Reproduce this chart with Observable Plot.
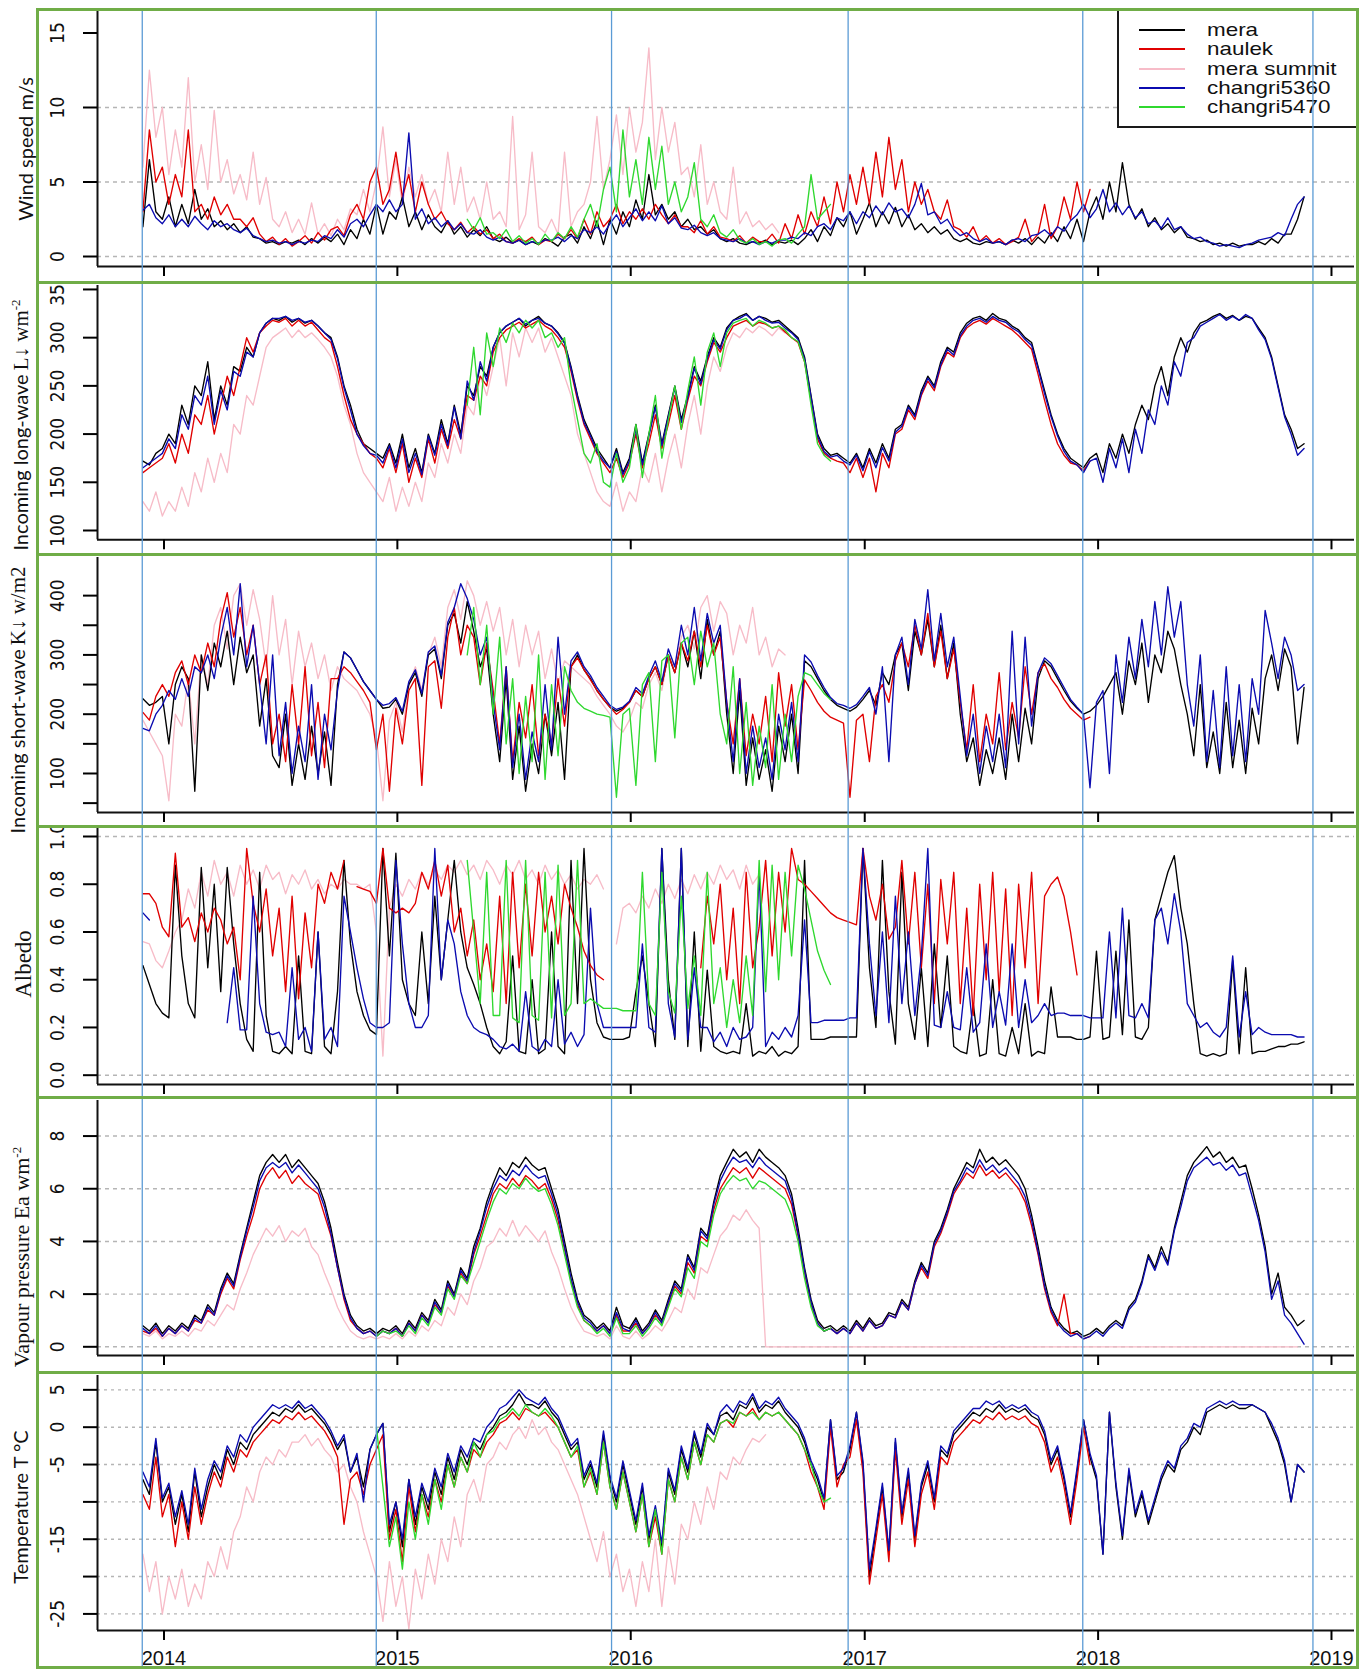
<!DOCTYPE html>
<html><head><meta charset="utf-8">
<script src="https://cdn.jsdelivr.net/npm/d3@7"></script>
<script src="https://cdn.jsdelivr.net/npm/@observablehq/plot@0.6"></script>
<style>
body{margin:0;background:#fff}
#fig{position:relative;width:1372px;height:1670px;background:#fff;overflow:hidden}
.box{position:absolute;border:3px solid #70ad47;box-sizing:border-box;z-index:4;pointer-events:none}
.ytitle{position:absolute;transform:translate(-50%,-50%) rotate(-90deg);white-space:nowrap;z-index:5;color:#111;line-height:1}
.sans{font-family:Lato,"Open Sans",sans-serif;font-size:20px}
.serif{font-family:"Liberation Serif","DejaVu Serif",serif;font-size:21px}
.serif sup{font-size:13px;vertical-align:8px}
.leg{position:absolute;z-index:2;background:#fff;border-left:2px solid #1a1a1a;border-bottom:2px solid #1a1a1a;box-sizing:border-box}
.legtxt{position:absolute;font-family:"Liberation Sans",Arial,sans-serif;font-size:19px;line-height:18px;height:18px;color:#111;white-space:nowrap;transform:scaleX(1.18);transform-origin:0 50%}
.plotwrap{position:absolute;left:0;z-index:1}
</style></head>
<body><div id="fig"></div>
<script>
// ---------------- data ----------------
const stations = ["mera", "naulek", "mera summit", "changri5360", "changri5470"];
const colors = ["#000000", "#e00000", "#f7bcc8", "#0b0bb0", "#2fd82f"];
// sampling grid: 36 samples per year starting 29 Nov 2013
const gridStart = Date.UTC(2013, 10, 29);
const gridStepDays = 365.25 / 36;
const yearTicks = [2014, 2015, 2016, 2017, 2018, 2019];
const hydroYearStarts = ["2013-11-28", "2014-11-29", "2015-12-02", "2016-12-06", "2017-12-08", "2018-12-03"];
const greenStartRad = 50, greenStartMet = 36;

// Wind speed m/s
const windMera = [2.0,6.5,3.0,2.5,4.0,2.0,3.5,2.2,4.5,2.5,3.2,2.0,2.4,1.8,2.2,1.6,2.0,1.3,1.2,0.9,1.0,0.8,1.0,0.9,1.1,0.8,1.2,0.9,1.3,1.0,1.5,0.8,1.8,1.2,2.5,1.5,
 3.5,1.5,3.0,2.5,4.0,2.0,3.0,1.8,2.8,2.0,1.6,2.4,1.5,2.0,1.3,1.8,1.4,2.0,1.2,1.0,1.3,0.9,1.1,0.8,1.0,0.8,1.2,1.0,0.7,1.3,1.5,0.9,2.0,1.2,2.4,0.8,
 2.5,1.5,3.0,2.0,3.8,2.5,5.5,2.8,3.5,2.5,3.0,2.0,2.5,1.8,2.0,1.5,1.8,1.2,1.0,1.2,0.9,0.8,1.0,0.9,1.1,0.8,1.0,0.9,1.1,0.8,1.2,1.8,1.0,2.0,1.4,2.6,
 2.0,3.0,1.5,2.5,3.6,2.0,3.0,2.2,3.3,2.0,2.8,1.8,2.2,1.6,2.0,1.5,1.8,1.2,1.0,1.2,0.9,0.8,1.0,0.9,1.0,0.8,1.1,0.9,1.2,0.8,1.3,0.9,1.6,1.0,2.0,1.2,
 2.5,1.0,3.0,4.0,2.5,5.0,3.0,6.3,3.5,2.5,3.2,2.0,2.6,1.8,2.2,1.6,2.0,1.3,1.2,1.0,1.1,0.8,0.9,0.7,0.9,0.7,0.8,0.8,1.0,0.8,1.2,0.9,1.5,1.5,2.5,4.0];
const windNaulek = [3.0,8.5,5.0,6.0,3.5,5.5,4.0,8.5,3.0,3.5,2.5,4.0,2.8,3.5,2.5,2.5,2.0,2.6,1.5,1.0,1.3,0.8,1.2,0.7,1.0,1.4,0.9,1.6,1.1,1.8,2.0,1.4,2.8,3.5,2.5,5.0,
 6.0,3.5,4.5,7.0,4.0,5.5,3.0,5.0,3.5,2.5,3.0,2.2,1.8,2.3,1.6,2.0,1.5,1.8,1.2,1.5,1.0,0.9,1.2,1.0,1.3,0.8,1.1,1.0,1.5,1.2,1.8,1.2,2.5,1.5,3.0,2.0,
 2.5,3.5,2.2,3.0,2.5,3.2,2.5,3.5,2.8,2.2,2.8,2.0,2.0,1.6,2.4,1.5,2.0,1.3,1.2,1.0,1.4,0.9,1.3,1.0,1.0,1.5,0.9,2.2,1.2,2.8,1.5,3.0,2.0,4.0,2.2,5.0,
 3.0,5.5,3.5,6.0,3.5,7.0,4.0,8.0,4.5,6.5,3.0,5.0,3.5,4.5,3.0,2.5,3.8,2.0,1.8,1.3,2.0,1.0,1.4,0.9,1.2,0.8,1.0,1.3,2.5,1.0,1.5,3.5,1.2,2.0,4.0,2.5,
 5.0,3.0,4.5];
const windSummit = [6.0,12.5,8.0,10.0,5.5,8.5,6.0,12.0,5.0,7.5,4.5,9.8,5.0,6.5,4.2,5.5,3.8,7.0,3.5,5.3,2.5,2.0,3.0,1.6,2.5,1.5,3.6,1.5,2.2,1.4,2.5,1.8,3.2,2.8,4.5,3.0,
 5.0,8.7,4.0,6.5,3.5,6.0,4.0,5.5,3.5,4.5,3.0,7.0,3.5,6.0,3.0,4.0,2.5,5.0,2.5,3.0,2.0,9.4,1.8,2.8,7.0,2.0,1.6,2.5,1.5,7.0,2.0,3.0,3.5,5.0,9.4,4.5,
 6.5,9.5,5.5,10.0,7.0,9.0,14.0,6.5,10.0,7.0,9.0,5.5,6.0,4.0,7.5,3.5,5.0,3.0,2.5,6.0,2.2,3.0,2.0,2.4,1.8,2.2,1.6];
const windC5360 = [3.1,3.5,2.6,2.2,2.8,2.0,2.5,2.0,2.7,2.2,1.8,2.4,2.0,2.2,1.8,1.6,1.9,1.4,1.2,1.0,1.1,0.9,1.0,0.8,1.0,0.9,1.1,1.0,1.4,1.2,1.8,1.3,2.2,2.5,2.0,2.8,
 3.5,3.0,3.8,3.0,3.5,8.3,2.5,3.2,2.2,2.6,2.0,2.4,1.8,2.2,1.6,1.5,1.8,1.3,1.1,1.3,1.0,0.9,1.1,0.8,1.0,0.9,1.1,1.1,1.3,1.0,1.4,1.2,1.8,1.6,2.0,1.5,
 2.2,2.8,2.0,2.6,3.2,2.4,3.0,2.4,3.4,2.2,2.6,1.9,1.8,2.1,1.6,1.4,1.6,1.2,1.1,1.0,1.2,0.9,1.0,0.8,1.0,0.9,1.1,1.1,1.3,1.2,1.6,1.4,2.0,2.2,1.8,2.6,
 2.4,3.0,2.2,3.0,2.6,3.4,2.8,3.6,3.0,3.2,2.6,3.5,4.9,2.8,3.0,2.2,2.5,1.8,1.4,1.6,1.2,1.0,1.2,0.9,1.0,0.8,1.1,1.2,1.0,1.4,1.5,1.8,1.4,2.0,1.7,2.4,
 2.8,3.5,2.6,3.2,4.5,3.0,3.6,2.8,3.4,2.6,3.0,2.2,2.4,1.9,2.6,1.8,2.0,1.5,1.2,1.3,1.0,0.9,0.7,0.8,0.7,0.6,0.8,0.9,1.1,1.2,1.3,1.6,1.4,2.5,3.5,4.0];
const windC5470 = [2.5,1.8,2.6,1.5,1.6,1.2,1.8,1.0,1.4,0.9,1.2,0.8,1.5,1.0,1.6,1.2,2.0,1.3,2.5,3.5,2.0,4.5,
 6.0,3.0,8.5,4.0,6.5,3.5,8.0,4.5,7.4,3.5,5.0,3.0,4.0,6.3,2.5,2.0,2.8,1.6,1.3,1.8,1.1,0.9,1.2,0.8,1.0,0.7,1.1,1.2,0.9,1.5,2.0,5.5,2.5,3.0,3.5];

// Incoming long-wave W m-2
const lwMera = [172,168,180,185,200,190,230,210,250,240,275,215,250,230,270,265,290,280,305,315,320,318,322,316,320,315,318,312,305,300,280,250,230,205,190,185,
 180,175,190,170,200,165,185,160,200,180,215,190,230,200,250,240,270,260,290,305,312,316,320,312,318,322,315,312,305,295,270,240,215,200,185,175,
 165,185,160,175,210,170,200,230,190,220,250,215,240,270,255,280,300,290,310,318,322,325,318,322,320,316,318,312,306,300,280,240,200,185,178,180,
 175,170,180,165,185,170,190,175,205,210,230,220,245,260,250,275,290,285,305,315,320,322,318,325,320,318,312,308,300,295,270,245,220,200,185,175,
 170,165,175,180,160,190,175,200,180,210,230,215,250,270,240,280,300,285,305,315,318,322,325,320,323,318,322,320,310,300,280,250,220,205,185,190];
const lwNaulek = [160,165,170,175,190,170,200,180,220,210,240,200,230,260,240,270,300,285,305,312,318,316,320,312,318,312,316,308,300,295,270,240,215,200,190,180,
 175,165,185,160,190,150,175,155,195,170,205,185,215,195,240,235,260,250,285,300,308,312,316,310,314,318,312,308,300,290,265,235,210,195,180,170,
 160,175,155,170,200,165,190,220,185,210,240,205,235,260,250,275,295,285,300,312,315,318,312,316,314,310,312,306,300,295,275,235,195,180,175,172,
 170,160,175,155,175,140,180,165,200,205,225,215,240,255,245,270,285,280,300,310,315,318,314,320,316,312,308,302,295,288,262,235,210,190,178,170,
 168,162,172];
const lwSummit = [130,120,140,115,130,120,145,125,160,140,175,150,180,160,210,200,240,230,260,290,300,305,310,300,308,300,305,298,290,280,260,230,210,180,160,150,
 140,130,155,120,145,125,150,130,170,155,190,170,200,180,230,220,260,240,270,300,250,305,280,310,295,310,285,300,280,260,240,200,180,160,140,130,
 125,150,120,140,130,165,150,180,140,175,200,165,210,240,200,250,280,265,290,305,300,310,305,312,308,302,310,305];
const lwC5360 = [165,170,175,180,195,185,220,205,240,230,260,210,245,225,265,260,285,280,305,315,320,320,322,318,320,316,318,312,305,298,278,248,225,200,188,180,
 178,170,188,165,195,160,180,158,198,178,210,188,228,195,255,235,275,255,290,305,312,316,320,314,318,320,315,312,304,294,268,238,212,198,182,172,
 165,182,158,172,205,168,198,228,188,218,248,212,238,268,252,278,298,288,308,318,320,324,318,322,318,315,316,310,305,298,278,238,198,182,176,178,
 172,168,178,162,182,165,186,172,202,208,228,218,242,258,248,272,288,282,302,312,318,320,316,322,318,316,310,306,298,292,268,242,218,198,182,172,
 168,160,172,175,150,185,165,195,160,205,180,225,210,250,230,275,260,295,300,312,316,320,324,318,322,318,324,320,308,298,278,248,218,200,178,185];
const lwC5470 = [230,290,220,305,270,310,295,315,305,318,310,318,300,305,290,300,250,215,180,170,190,150,
 145,180,150,165,210,155,200,240,175,215,250,205,245,280,230,285,305,270,305,315,318,320,312,318,315,310,312,308,300,296,275,230,190,178,172];

// Incoming short-wave W m-2
const swMera = [226,215,220,230,150,250,280,260,70,300,240,320,280,340,250,330,270,300,180,260,130,110,200,80,150,90,180,100,170,80,250,305,295,275,255,240,
 225,210,212,225,200,250,270,230,300,310,260,350,370,320,390,340,280,310,200,120,260,90,180,70,150,100,200,130,220,90,280,300,275,260,240,225,
 212,205,210,220,240,230,260,280,250,300,270,320,280,340,260,360,300,340,200,100,240,80,160,90,140,70,180,120,200,100,290,280,260,240,225,215,
 210,205,212,225,240,215,270,250,300,320,240,340,300,360,280,350,260,320,200,120,160,80,140,100,160,90,200,120,210,150,260,290,280,260,240,222,
 210,200,205,215,230,250,270,200,290,250,320,220,300,270,340,310,250,200,130,250,110,170,100,220,110,190,100,210,150,260,300,240,310,280,150,245];
const swNaulek = [203,190,230,250,230,270,290,250,300,270,320,280,360,405,330,380,300,350,250,300,150,200,120,250,150,280,130,220,110,260,260,280,270,255,240,220,
 140,200,70,210,150,240,260,80,280,290,210,330,380,300,350,330,250,320,240,150,280,120,220,160,250,130,200,150,260,180,280,295,275,258,240,225,
 212,200,208,220,240,230,260,280,250,300,270,320,290,340,280,350,300,330,220,150,260,130,200,150,230,120,270,180,250,140,258,240,220,205,195,190,
 185,60,190,200,120,230,250,220,290,320,280,350,300,370,280,340,260,310,220,140,250,120,200,150,270,140,220,160,280,200,270,285,260,245,225,210,
 200,190,195];
const swSummit = [190,170,150,130,54,200,180,260,150,300,250,350,380,310,400,420,350,410,360,280,400,300,360,250,340,280,320,260,300,240,280,260,250,240,220,200,
 160,54,190,220,170,250,280,240,300,330,280,380,410,360,425,400,350,390,340,380,300,360,280,350,300,340,260,310,250,290,280,270,260,250,230,215,
 200,180,170,190,220,210,250,270,240,300,280,330,350,310,380,400,340,390,370,300,350,320,380,300,330,280,310,300];
const swC5360 = [176,172,200,215,240,225,260,230,280,270,300,260,330,380,300,420,280,350,250,150,300,130,220,100,180,120,250,90,200,140,240,305,295,275,255,240,
 225,215,218,228,205,255,275,235,305,315,265,355,380,420,395,360,300,330,220,140,280,110,200,90,170,120,250,140,330,200,290,305,280,265,245,230,
 215,208,212,222,245,235,265,290,255,310,280,350,300,380,290,370,320,350,220,120,260,100,180,110,160,90,200,140,220,120,300,288,265,245,228,218,
 215,210,216,230,245,200,280,120,300,330,250,360,310,410,290,370,280,330,230,130,200,100,180,120,200,110,340,150,330,180,270,295,285,265,245,225,
 212,200,76,220,240,100,300,220,330,260,360,280,390,300,415,330,390,250,180,300,120,240,110,280,130,250,120,260,200,375,320,260,330,300,240,250];
const swC5470 = [300,380,250,350,200,330,150,260,100,230,120,300,90,250,130,280,240,220,210,205,200,198,
 195,60,200,210,80,250,270,120,290,300,160,320,330,250,340,280,320,200,150,280,100,220,80,180,110,250,90,200,120,230,270,265,250,235,225];

// Albedo
const albMera = [0.46,0.38,0.30,0.26,0.24,0.88,0.50,0.30,0.24,0.87,0.45,0.80,0.35,0.87,0.55,0.30,0.15,0.10,0.85,0.25,0.10,0.09,0.12,0.09,0.50,0.10,0.09,0.60,0.12,0.09,0.35,0.90,0.55,0.35,0.25,0.19,
 0.17,0.95,0.50,0.93,0.40,0.30,0.25,0.60,0.30,0.75,0.40,0.65,0.90,0.60,0.45,0.38,0.30,0.20,0.12,0.09,0.14,0.50,0.10,0.09,0.40,0.09,0.11,0.60,0.12,0.09,0.90,0.30,0.95,0.40,0.22,0.16,
 0.15,0.15,0.15,0.16,0.35,0.50,0.30,0.12,0.95,0.40,0.15,0.95,0.12,0.60,0.10,0.44,0.12,0.10,0.09,0.10,0.09,0.30,0.08,0.10,0.09,0.12,0.08,0.10,0.09,0.12,0.90,0.15,0.15,0.15,0.16,0.16,
 0.16,0.16,0.16,0.95,0.45,0.20,0.90,0.35,0.13,0.85,0.30,0.15,0.45,0.12,0.55,0.20,0.50,0.12,0.10,0.09,0.30,0.08,0.09,0.40,0.09,0.08,0.20,0.09,0.30,0.08,0.10,0.09,0.37,0.16,0.16,0.16,
 0.15,0.15,0.16,0.52,0.15,0.16,0.52,0.17,0.65,0.16,0.15,0.20,0.65,0.75,0.85,0.92,0.70,0.55,0.30,0.09,0.08,0.09,0.08,0.09,0.48,0.09,0.45,0.09,0.10,0.10,0.11,0.12,0.12,0.13,0.13,0.14];
const albNaulek = [0.76,0.76,0.72,0.62,0.58,0.93,0.62,0.66,0.56,0.68,0.60,0.70,0.65,0.55,0.62,0.40,0.95,0.72,0.60,0.78,0.50,0.70,0.35,0.75,0.32,0.68,0.45,0.80,0.72,0.85,0.78,0.90,null,0.79,0.78,0.77,
 0.72,0.95,0.70,0.68,0.70,0.68,0.72,0.85,0.78,0.90,0.75,0.88,0.60,0.70,0.50,0.65,0.40,0.55,0.35,0.75,0.30,0.85,0.45,0.80,0.50,0.85,0.60,0.75,0.55,0.80,0.70,0.62,0.52,0.46,0.42,0.40,
 null,null,null,null,null,null,null,null,null,null,null,null,null,null,0.45,0.75,0.55,0.80,0.40,0.70,0.30,0.85,0.45,0.62,0.90,0.50,0.85,0.60,0.95,0.82,0.80,0.77,0.74,0.71,0.68,0.66,
 0.65,0.64,0.63,0.95,0.75,0.65,0.80,0.57,0.62,0.90,0.55,0.85,0.45,0.80,0.30,0.82,0.55,0.85,0.30,0.70,0.25,0.80,0.40,0.85,0.35,0.78,0.25,0.80,0.45,0.85,0.30,0.75,0.80,0.83,0.75,0.60,
 0.42];
const albSummit = [0.56,0.55,0.48,0.45,0.52,0.60,0.65,0.78,0.70,0.85,0.75,0.90,0.80,0.85,0.75,0.88,0.80,0.86,0.78,0.88,0.82,0.85,0.76,0.84,0.80,0.86,0.78,0.82,0.76,0.80,0.78,0.82,0.80,0.80,0.78,0.80,
 0.60,0.08,0.70,0.80,0.75,0.82,0.78,0.85,0.80,0.86,0.82,0.88,0.85,0.90,0.84,0.88,0.82,0.90,0.86,0.80,0.88,0.84,0.90,0.82,0.86,0.80,0.88,0.82,0.86,0.80,0.84,0.78,0.82,0.80,0.84,0.78,
 null,0.55,0.70,0.72,0.68,0.75,0.70,0.78,0.72,0.80,0.74,0.82,0.76,0.84,0.78,0.85,0.80,0.88,0.82,0.86,0.78,0.88,0.80,0.84];
const albC5360 = [0.68,0.65,null,null,null,null,null,null,null,null,null,null,null,0.22,0.45,0.19,0.19,0.75,0.30,0.18,0.17,0.18,0.12,0.45,0.15,0.20,0.10,0.60,0.15,0.20,0.12,0.75,0.60,0.45,0.32,0.22,
 0.20,0.20,0.22,0.90,0.55,0.30,0.20,0.20,0.25,0.95,0.40,0.65,0.55,0.35,0.25,0.20,0.18,0.17,0.15,0.12,0.11,0.13,0.10,0.35,0.12,0.10,0.15,0.12,0.40,0.13,0.18,0.12,0.17,0.70,0.30,0.20,
 0.20,0.20,0.20,0.20,0.20,0.55,0.20,0.18,0.95,0.30,0.16,0.95,0.15,0.45,0.20,0.20,0.14,0.18,0.12,0.20,0.15,0.16,0.20,0.85,0.12,0.18,0.15,0.20,0.16,0.25,0.65,0.22,0.22,0.23,0.23,0.23,
 0.23,0.24,0.24,0.95,0.55,0.25,0.60,0.22,0.75,0.30,0.60,0.25,0.50,0.95,0.21,0.20,0.35,0.20,0.19,0.45,0.18,0.22,0.55,0.20,0.35,0.21,0.55,0.20,0.40,0.22,0.25,0.30,0.25,0.26,0.26,0.25,
 0.25,0.25,0.24,0.24,0.24,0.60,0.24,0.70,0.25,0.24,0.30,0.24,0.65,0.70,0.55,0.76,0.60,0.30,0.25,0.20,0.22,0.18,0.16,0.20,0.50,0.16,0.35,0.17,0.20,0.18,0.17,0.17,0.17,0.17,0.16,0.16];
const albC5470 = [0.90,0.60,0.30,0.85,0.25,0.25,0.90,0.24,0.22,0.90,0.25,0.23,0.85,0.24,0.88,0.25,0.30,0.90,0.30,0.32,0.30,0.28,
 0.28,0.28,0.27,0.27,0.27,0.85,0.30,0.25,0.85,0.35,0.26,0.75,0.28,0.50,0.25,0.85,0.30,0.45,0.20,0.40,0.22,0.50,0.25,0.90,0.35,0.88,0.40,0.85,0.50,0.88,0.78,0.65,0.52,0.44,0.38];

// Vapour pressure
const vpMera = [0.8,0.6,0.9,0.5,0.8,0.6,0.9,0.7,1.2,1.0,1.6,1.3,2.2,2.8,2.4,3.5,4.5,5.5,6.5,7.0,7.3,7.0,7.3,6.8,7.1,6.8,6.5,6.2,5.5,4.5,3.2,2.0,1.2,0.8,0.6,0.7,
 0.5,0.7,0.6,0.8,0.5,1.0,0.7,1.3,1.0,1.8,1.4,2.5,2.0,3.0,2.6,3.8,4.5,5.5,6.2,6.8,6.5,7.0,6.8,7.2,6.9,6.7,6.8,6.0,5.2,4.0,2.8,1.8,1.2,1.0,0.7,0.9,
 0.6,1.5,0.8,0.7,1.1,0.6,0.9,1.4,1.0,1.8,2.5,2.2,3.5,3.0,4.5,4.2,5.5,6.5,7.0,7.5,7.2,7.4,7.0,7.5,7.2,7.0,6.8,6.5,5.8,4.5,3.0,1.8,1.0,0.7,0.8,0.6,
 0.8,0.6,1.0,0.7,1.1,0.8,0.9,1.3,1.2,1.8,1.5,2.5,3.2,2.8,4.0,4.5,5.2,6.0,6.5,7.0,6.8,7.5,7.0,7.2,6.9,7.1,6.8,6.5,6.0,5.0,3.8,2.5,1.5,1.0,0.7,0.5,
 0.6,0.4,0.5,0.7,0.5,0.8,1.0,0.8,1.5,1.8,2.5,3.5,3.0,3.8,3.2,4.5,5.5,6.5,7.0,7.3,7.6,7.2,7.4,7.0,7.2,6.8,6.9,6.0,5.0,3.8,2.0,2.8,1.5,1.2,0.8,1.0];
const vpNaulek = [0.6,0.5,0.7,0.4,0.7,0.5,0.8,0.6,1.0,0.9,1.4,1.2,2.0,2.6,2.2,3.3,4.2,5.0,6.0,6.5,6.8,6.4,6.7,6.2,6.5,6.2,6.0,5.8,5.0,4.2,3.0,1.8,1.0,0.7,0.5,0.6,
 0.4,0.6,0.5,0.7,0.4,0.9,0.6,1.2,0.9,1.6,1.3,2.3,1.9,2.8,2.4,3.5,4.2,5.0,5.8,6.2,6.0,6.4,6.1,6.5,6.3,6.0,6.2,5.6,4.8,3.7,2.5,1.6,1.0,0.8,0.6,0.8,
 0.5,1.2,0.6,0.6,0.9,0.5,0.8,1.2,0.9,1.6,2.3,2.0,3.2,2.8,4.2,4.0,5.2,6.0,6.4,6.8,6.6,6.8,6.4,6.8,6.6,6.4,6.2,6.0,5.4,4.2,2.8,1.6,0.9,0.6,0.7,0.5,
 0.7,0.5,0.9,0.6,1.0,0.7,0.8,1.2,1.1,1.7,1.4,2.4,3.0,2.6,3.8,4.3,5.0,5.8,6.2,6.6,6.4,6.9,6.5,6.7,6.4,6.6,6.3,6.0,5.5,4.6,3.5,2.2,1.3,0.8,2.0,0.5,
 0.5,0.3,0.4];
const vpSummit = [0.5,0.4,0.6,0.3,0.5,0.4,0.6,0.4,0.7,0.6,1.0,0.8,1.2,1.6,1.4,2.2,2.8,3.5,4.0,4.5,4.2,4.6,4.0,4.4,4.2,4.5,3.8,3.5,2.8,2.2,1.5,1.0,0.6,0.4,0.3,0.4,
 0.3,0.4,0.3,0.5,0.3,0.6,0.4,0.8,0.6,1.0,0.8,1.5,1.2,2.0,1.6,2.5,3.0,3.8,4.0,4.5,4.2,4.8,4.2,4.6,4.3,4.0,4.4,3.6,3.0,2.2,1.5,1.0,0.6,0.5,0.4,0.5,
 0.3,0.8,0.4,0.3,0.6,0.3,0.5,0.8,0.6,1.0,1.5,1.3,2.2,1.8,3.0,2.8,3.5,4.2,4.5,5.0,4.8,5.2,4.8,4.5,0,0,0,0,0,0,0,0,0,0,0,0,
 0,0,0,0,0,0,0,0,0,0,0,0,0,0,0,0,0,0,0,0,0,0,0,0,0,0,0,0,0,0,0,0,0,0,0,0,
 0,0,0,0,0,0,0,0,0,0,0,0,0,0,0,0,0,0,0,0,0,0,0,0,0,0,0,0,0,0,0,0,0,0,0];
const vpC5360 = [0.7,0.5,0.8,0.4,0.7,0.5,0.8,0.6,1.1,0.9,1.5,1.2,2.1,2.7,2.3,3.4,4.4,5.3,6.3,6.8,7.0,6.8,7.0,6.6,6.9,6.6,6.3,6.0,5.3,4.3,3.0,1.9,1.1,0.7,0.5,0.6,
 0.4,0.6,0.5,0.7,0.4,0.9,0.6,1.2,0.9,1.7,1.3,2.4,1.9,2.9,2.5,3.6,4.4,5.3,6.0,6.5,6.3,6.7,6.5,6.9,6.6,6.4,6.5,5.8,5.0,3.8,2.6,1.7,1.1,0.9,0.6,0.8,
 0.5,1.3,0.7,0.6,1.0,0.5,0.8,1.3,0.9,1.7,2.4,2.1,3.4,2.9,4.4,4.1,5.4,6.3,6.8,7.2,7.0,7.1,6.8,7.2,6.9,6.7,6.5,6.3,5.6,4.3,2.9,1.7,0.9,0.6,0.7,0.5,
 0.7,0.5,0.9,0.6,1.0,0.7,0.8,1.2,1.1,1.7,1.4,2.4,3.1,2.7,3.9,4.4,5.1,5.9,6.3,6.8,6.6,7.1,6.7,6.9,6.6,6.8,6.5,6.2,5.7,4.8,3.6,2.3,1.4,0.9,0.6,0.4,
 0.5,0.3,0.4,0.6,0.4,0.7,0.9,0.7,1.4,1.7,2.4,3.4,2.9,3.6,3.1,4.4,5.3,6.3,6.8,7.0,7.2,6.9,7.0,6.7,6.9,6.5,6.6,5.7,4.8,3.6,1.8,2.5,1.2,0.9,0.5,0.1];
const vpC5470 = [0.4,0.6,0.5,0.6,0.4,0.8,0.5,1.1,0.8,1.5,1.2,2.2,1.8,2.7,2.4,3.2,4.0,4.8,5.5,6.0,5.8,6.2,6.0,6.4,6.1,5.9,6.0,5.4,4.6,3.5,2.4,1.5,1.0,0.8,0.5,0.7,
 0.4,1.1,0.5,0.5,0.8,0.4,0.7,1.1,0.8,1.5,2.2,1.9,3.0,2.6,4.0,3.8,5.0,5.8,6.2,6.5,6.3,6.4,6.0,6.3,6.2,6.0,5.8,5.6,5.0,4.0,2.6,1.5,0.8,0.6,0.7];

// Temperature °C
const tMera = [-7,-9,-2,-10,-8,-13,-9,-14,-6,-12,-8,-5,-7,-3,-5,-2,-3,-1,0,1,2,1.5,2.5,2,3,2,2.5,1.5,0.5,-1,-3,-1.5,-6,-4,-8,-3,
 -1,0.5,-14,-10,-16,-7,-13,-8,-11,-6,-9,-4,-7,-3,-5,-2,-3,-1,0,1.5,2,3,4.5,3,3,2.5,3.5,2,1,-1,-3,-2,-7,-5,-8,-1,
 -7,-10,-5,-9,-13,-8,-15,-11,-16,-6,-9,-3,-6,-1,-4,0,-1,1.5,2,1,3,2.5,4,2,3,2.5,3.5,2,1,0,-2,-5,-7,-10,1,-7,
 -6,-3,2,-5,-20,-14,-8,-17,-2,-12,-6,-15,-8,-5,-10,-3,-4,-1,0,1,2,1.5,2.5,2,3,2,2.5,2,2.5,1.5,1,-1,-5,-3,-7,-12,
 -6,1,-4,-7,-17,2,-8,-15,-6,-12,-9,-13,-10,-7,-5,-6,-3,-2,0,-1,2,2.5,3,2.5,3,2.5,2.5,3,2.5,2,0,-2,-5,-10,-5,-6];
const tNaulek = [-9,-11,-4,-12,-9,-16,-10,-15,-8,-13,-9,-6,-8,-4,-6,-3,-4,-2,-1,0,1,0.5,1.5,1,2,1,1.5,0.5,-0.5,-2,-4,-13,-7,-6,-9,-5,
 -3,-1,-15,-11,-18,-8,-14,-9,-12,-7,-10,-5,-8,-4,-6,-3,-4,-2,-1,0.5,1,2,1,2.5,2,1.5,2,1,0,-2,-4,-3,-8,-6,-9,-2,
 -8,-11,-6,-10,-14,-9,-16,-12,-17,-7,-10,-4,-7,-2,-5,-1,-2,0.5,1,0,2,1.5,2.5,1,2,1.5,2,1,0,-1,-3,-6,-8,-11,0,-8,
 -5,-4,1,-6,-21,-15,-9,-18,-3,-13,-7,-16,-9,-6,-11,-4,-5,-2,-1,0,1,0.5,1.5,1,2,1,1.5,1,1.5,0.5,0,-2,-6,-4,-8,-13,
 -7,0,-5];
const tSummit = [-17,-22,-18,-25,-20,-23,-19,-24,-21,-23,-18,-20,-16,-19,-14,-12,-8,-10,-6,-4,-5,-3,-4,-2,-2,-1,-2.5,-1.5,-3,-4,-6,-5,-8,-10,-14,-17,
 -20,-26,-18,-24,-20,-27,-19,-23,-17,-21,-15,-18,-12,-16,-9,-7,-10,-5,-4,-2,-3,-1,0,-1.5,1,-1,0,-2,-3,-5,-7,-9,-12,-15,-18,-14,
 -20,-17,-22,-19,-24,-18,-22,-15,-24,-16,-21,-13,-15,-10,-13,-8,-11,-6,-7,-4,-5,-3,-1.5,-2,-1];
const tC5360 = [-6,-8,-1.5,-9.5,-7.5,-12,-8.5,-13,-5.5,-11,-7,-4.5,-6,-2.5,-4,-1,-2,0,1,2,3,2.5,3,2.5,3.5,2.5,3,2,1,-0.5,-2.5,-1,-6,-3.5,-10,-3,
 -1,0.5,-13,-10,-15,-7,-12,-7.5,-10,-5.5,-8,-3.5,-6,-2.5,-4,-1.5,-2,0,1,2.5,3,4,5,4,3.5,3,4,2.5,1.5,-0.5,-2.5,-1.5,-6.5,-4.5,-7.5,-0.5,
 -6.5,-9.5,-4.5,-8.5,-12.5,-7.5,-14.5,-10.5,-15.5,-5.5,-8.5,-2.5,-5.5,-0.5,-3.5,0.5,-1,2,3,2,3.5,3,4.5,2.5,3.5,3,4,2.5,1.5,0.5,-1.5,-4.5,-6.5,-9.5,1,-6.5,
 -5.5,-2.5,2,-4.5,-19,-13.5,-7.5,-16.5,-1.5,-11.5,-5.5,-14.5,-7.5,-4.5,-9.5,-2.5,-3.5,-0.5,0.5,1.5,2.5,2.5,3.5,3,3.5,2.5,3,2.5,3,2,1.5,-0.5,-4.5,-2.5,-6.5,-11.5,
 -5.5,1,-3.5,-6.5,-17,2,-7.5,-14.5,-5.5,-11.5,-8.5,-12.5,-9.5,-6.5,-4.5,-5.5,-2.5,-1.5,0.5,0,2.5,3,3.5,3,3.5,3,3,3,2.5,2,0.5,-1.5,-4.5,-10,-5,-6];
const tC5470 = [0,-8,-16,-12,-19,-10,-15,-9,-13,-7,-11,-5,-8,-4,-6,-2,-4,-1,-0.5,1,1.5,2.5,1.5,3,2,1.5,2.5,1.5,0,-2,-4,-2.5,-8,-5.5,-9,-2,
 -8,-11,-6,-10,-14,-9,-16,-11,-17,-7,-10,-4,-7,-2,-5,-1,-2,0.5,1,0.5,2,1.5,2,1,2,1.5,2,1,0,-1,-3,-5,-8,-10,-9.5];

// axis ticks
const windTicks = [0, 5, 10, 15];
const lwTicks = [100, 150, 200, 250, 300, 350];
const swTicks = [50, 100, 150, 200, 250, 300, 350, 400];
const swLabels = [100, 200, 300, 400];
const albTicks = [0, 0.2, 0.4, 0.6, 0.8, 1.0];
const vpTicks = [0, 2, 4, 6, 8];
const tTicks = [-25, -20, -15, -10, -5, 0, 5];
const tLabels = [-25, -15, -5, 0, 5];

// ---------------- build ----------------
const fig = document.getElementById("fig");
const xDomain = [new Date(Date.UTC(2013, 8, 19)), new Date(Date.UTC(2019, 1, 6))];
const yearDates = yearTicks.map(y => new Date(Date.UTC(y, 0, 1)));
const rowsOf = (station, start, values) => values.map((v, k) => ({
  station, date: new Date(gridStart + (start + k) * gridStepDays * 864e5), v
}));
const tickFont = '"Liberation Sans Narrow","DejaVu Sans Condensed","Liberation Sans",sans-serif';

const panels = [
  {top: 9, bottom: 282, plotTop: 10, plotBottom: 266, domain: [-0.671, 16.51], ticks: windTicks, labels: windTicks, fmt: d => String(d), grid: [0, 5, 10], dash: "4,4",
   series: [["mera summit", 0, windSummit], ["mera", 0, windMera], ["naulek", 0, windNaulek], ["changri5360", 0, windC5360], ["changri5470", greenStartRad, windC5470]],
   title: '<span class="sans">Wind speed m/s</span>', cx: 25, cy: 149},
  {top: 282, bottom: 554, plotTop: 285, plotBottom: 539.3, domain: [90.35, 354.1], ticks: lwTicks, labels: lwTicks, fmt: d => String(d), grid: [], dash: "4,4",
   series: [["mera summit", 0, lwSummit], ["mera", 0, lwMera], ["naulek", 0, lwNaulek], ["changri5360", 0, lwC5360], ["changri5470", greenStartRad, lwC5470]],
   title: '<span class="sans">Incoming long-wave</span> <span class="serif">L↓ wm<sup>-2</sup></span>', cx: 20, cy: 425},
  {top: 554, bottom: 826, plotTop: 557, plotBottom: 812, domain: [34.2, 464.3], ticks: swTicks, labels: swLabels, fmt: d => String(d), grid: [], dash: "4,4",
   series: [["mera summit", 0, swSummit], ["mera", 0, swMera], ["naulek", 0, swNaulek], ["changri5360", 0, swC5360], ["changri5470", greenStartRad, swC5470]],
   title: '<span class="sans">Incoming short-wave</span> <span class="serif">K↓ w/m2</span>', cx: 18, cy: 700},
  {top: 826, bottom: 1097, plotTop: 828, plotBottom: 1084, domain: [-0.039, 1.0335], ticks: albTicks, labels: albTicks, fmt: d => d.toFixed(1), grid: [0, 1], dash: "4,4",
   series: [["mera summit", 0, albSummit], ["mera", 0, albMera], ["naulek", 0, albNaulek], ["changri5360", 0, albC5360], ["changri5470", greenStartRad, albC5470]],
   title: '<span class="serif" style="font-size:23px">Albedo</span>', cx: 23, cy: 964},
  {top: 1097, bottom: 1372, plotTop: 1100, plotBottom: 1355, domain: [-0.33, 9.35], ticks: vpTicks, labels: vpTicks, fmt: d => String(d), grid: vpTicks, dash: "4,4",
   series: [["mera summit", 0, vpSummit], ["mera", 0, vpMera], ["naulek", 0, vpNaulek], ["changri5360", 0, vpC5360], ["changri5470", greenStartMet, vpC5470]],
   title: '<span class="serif" style="font-size:22px">Vapour pressure Ea wm<sup>-2</sup></span>', cx: 21, cy: 1257},
  {top: 1372, bottom: 1667, plotTop: 1375, plotBottom: 1630, domain: [-27.22, 6.92], ticks: tTicks, labels: tLabels, fmt: d => String(d), grid: tTicks, dash: "3,4",
   series: [["mera summit", 0, tSummit], ["mera", 0, tMera], ["naulek", 0, tNaulek], ["changri5360", 0, tC5360], ["changri5470", greenStartMet, tC5470]],
   title: '<span class="sans">Temperature T °C</span>', cx: 20, cy: 1507, years: true}
];

panels.forEach(p => {
  const rows = p.series.flatMap(([s, start, vals]) => rowsOf(s, start, vals));
  const marks = [
    Plot.ruleY(p.grid, {stroke: "#b5b5b5", strokeWidth: 1.4, strokeDasharray: p.dash}),
    Plot.line(rows, {x: "date", y: "v", z: "station", stroke: "station", strokeWidth: 1.35}),
    Plot.ruleX([xDomain[0]], {stroke: "#111", strokeWidth: 2}),
    Plot.ruleY([p.domain[0]], {stroke: "#111", strokeWidth: 2}),
    Plot.axisY({ticks: p.ticks, tickSize: 14, tickFormat: () => "", label: null, strokeWidth: 2}),
    Plot.text(p.labels, {y: d => d, text: p.fmt, frameAnchor: "left", dx: -34, rotate: -90, textAnchor: "middle", lineAnchor: "bottom", fontSize: 19, fontFamily: tickFont, fill: "#111"}),
    Plot.axisX({ticks: yearDates, tickSize: 10, tickFormat: () => "", label: null, strokeWidth: 2})
  ];
  if (p.years) {
    marks.push(Plot.text(yearDates, {x: d => d, text: d => String(d.getUTCFullYear()), frameAnchor: "bottom", dy: 20, lineAnchor: "top", fontSize: 20, fontFamily: '"Liberation Sans",Arial,sans-serif', fill: "#111", letterSpacing: "1.8px"}));
  }
  const svg = Plot.plot({
    width: 1372, height: p.bottom - p.top,
    marginLeft: 97, marginRight: 18, marginTop: p.plotTop - p.top, marginBottom: p.bottom - p.plotBottom,
    x: {type: "utc", domain: xDomain},
    y: {domain: p.domain},
    color: {domain: stations, range: colors},
    style: {background: "transparent", overflow: p.years ? "visible" : "hidden"},
    marks
  });
  const wrap = document.createElement("div");
  wrap.className = "plotwrap";
  wrap.style.top = p.top + "px";
  wrap.style.height = (p.bottom - p.top) + "px";
  wrap.style.overflow = p.years ? "visible" : "hidden";
  wrap.appendChild(svg);
  fig.appendChild(wrap);

  const box = document.createElement("div");
  box.className = "box";
  box.style.left = "35.5px"; box.style.width = (1358.5 - 35.5) + "px";
  box.style.top = (p.top - 1.5) + "px"; box.style.height = (p.bottom - p.top + 3) + "px";
  fig.appendChild(box);

  const t = document.createElement("div");
  t.className = "ytitle";
  t.style.left = p.cx + "px"; t.style.top = p.cy + "px";
  t.innerHTML = p.title;
  fig.appendChild(t);
});

// legend
const leg = document.createElement("div");
leg.className = "leg";
Object.assign(leg.style, {left: "1117px", top: "8px", width: "242px", height: "120px"});
stations.forEach((s, k) => {
  const yc = 22 + 19.3 * k;
  const ln = document.createElement("div");
  Object.assign(ln.style, {position: "absolute", left: "20px", top: (yc - 1) + "px", width: "46px", height: "2px", background: colors[k]});
  leg.appendChild(ln);
  const tx = document.createElement("div");
  tx.className = "legtxt";
  tx.style.left = "88px"; tx.style.top = (yc - 9) + "px";
  tx.textContent = s;
  leg.appendChild(tx);
});
fig.appendChild(leg);

// hydrological-year lines across all panels
const overlay = Plot.plot({
  width: 1372, height: 1658, marginLeft: 97, marginRight: 18, marginTop: 0, marginBottom: 0,
  x: {type: "utc", domain: xDomain, axis: null},
  style: {background: "transparent", overflow: "visible"},
  marks: [Plot.ruleX(hydroYearStarts.map(d => new Date(d + "T00:00:00Z")), {stroke: "#5b9bd5", strokeWidth: 1.3})]
});
const ow = document.createElement("div");
Object.assign(ow.style, {position: "absolute", left: "0px", top: "9px", zIndex: 3, pointerEvents: "none"});
ow.appendChild(overlay);
fig.appendChild(ow);
</script>
</body></html>
